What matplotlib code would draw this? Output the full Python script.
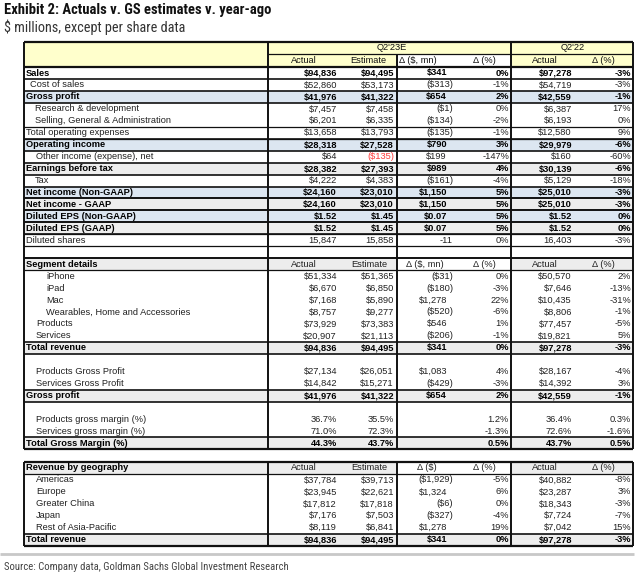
import matplotlib
matplotlib.use("Agg")
import matplotlib.pyplot as plt
from matplotlib.patches import Rectangle

# ---- data: income statement block ----
pl_labels = ["Sales", "Cost of sales", "Gross profit", "Research & development",
             "Selling, General & Administration", "Total operating expenses",
             "Operating income", "Other income (expense), net", "Earnings before tax",
             "Tax", "Net income (Non-GAAP)", "Net income - GAAP",
             "Diluted EPS (Non-GAAP)", "Diluted EPS (GAAP)", "Diluted shares"]
pl_actual = ["$94,836", "$52,860", "$41,976", "$7,457", "$6,201", "$13,658", "$28,318",
             "$64", "$28,382", "$4,222", "$24,160", "$24,160", "$1.52", "$1.52", "15,847"]
pl_estimate = ["$94,495", "$53,173", "$41,322", "$7,458", "$6,335", "$13,793", "$27,528",
               "($135)", "$27,393", "$4,383", "$23,010", "$23,010", "$1.45", "$1.45", "15,858"]
pl_delta = ["$341", "($313)", "$654", "($1)", "($134)", "($135)", "$790", "$199", "$989",
            "($161)", "$1,150", "$1,150", "$0.07", "$0.07", "-11"]
pl_delta_pct = ["0%", "-1%", "2%", "0%", "-2%", "-1%", "3%", "-147%", "4%", "-4%",
                "5%", "5%", "5%", "5%", "0%"]
pl_yago = ["$97,278", "$54,719", "$42,559", "$6,387", "$6,193", "$12,580", "$29,979",
           "$160", "$30,139", "$5,129", "$25,010", "$25,010", "$1.52", "$1.52", "16,403"]
pl_yago_pct = ["-3%", "-3%", "-1%", "17%", "0%", "9%", "-6%", "-60%", "-6%", "-18%",
               "-3%", "-3%", "0%", "0%", "-3%"]

# ---- segments ----
seg_labels = ["iPhone", "iPad", "Mac", "Wearables, Home and Accessories",
              "Products", "Services", "Total revenue"]
seg_actual = ["$51,334", "$6,670", "$7,168", "$8,757", "$73,929", "$20,907", "$94,836"]
seg_estimate = ["$51,365", "$6,850", "$5,890", "$9,277", "$73,383", "$21,113", "$94,495"]
seg_delta = ["($31)", "($180)", "$1,278", "($520)", "$546", "($206)", "$341"]
seg_delta_pct = ["0%", "-3%", "22%", "-6%", "1%", "-1%", "0%"]
seg_yago = ["$50,570", "$7,646", "$10,435", "$8,806", "$77,457", "$19,821", "$97,278"]
seg_yago_pct = ["2%", "-13%", "-31%", "-1%", "-5%", "5%", "-3%"]

gp_labels = ["Products Gross Profit", "Services Gross Profit", "Gross profit"]
gp_actual = ["$27,134", "$14,842", "$41,976"]
gp_estimate = ["$26,051", "$15,271", "$41,322"]
gp_delta = ["$1,083", "($429)", "$654"]
gp_delta_pct = ["4%", "-3%", "2%"]
gp_yago = ["$28,167", "$14,392", "$42,559"]
gp_yago_pct = ["-4%", "3%", "-1%"]

gm_labels = ["Products gross margin (%)", "Services gross margin (%)", "Total Gross Margin (%)"]
gm_actual = ["36.7%", "71.0%", "44.3%"]
gm_estimate = ["35.5%", "72.3%", "43.7%"]
gm_delta = ["", "", ""]
gm_delta_pct = ["1.2%", "-1.3%", "0.5%"]
gm_yago = ["36.4%", "72.6%", "43.7%"]
gm_yago_pct = ["0.3%", "-1.6%", "0.5%"]

# ---- geography ----
geo_labels = ["Americas", "Europe", "Greater China", "Japan", "Rest of Asia-Pacific",
              "Total revenue"]
geo_actual = ["$37,784", "$23,945", "$17,812", "$7,176", "$8,119", "$94,836"]
geo_estimate = ["$39,713", "$22,621", "$17,818", "$7,503", "$6,841", "$94,495"]
geo_delta = ["($1,929)", "$1,324", "($6)", "($327)", "$1,278", "$341"]
geo_delta_pct = ["-5%", "6%", "0%", "-4%", "19%", "0%"]
geo_yago = ["$40,882", "$23,287", "$18,343", "$7,724", "$7,042", "$97,278"]
geo_yago_pct = ["-8%", "3%", "-3%", "-7%", "15%", "-3%"]

# ---- layout / styles ----
# n = indented normal, p = plain top level, b = bold, B = bold blue, G = bold grey
pl_style = ["b", "n", "B", "n", "n", "p", "B", "n", "G", "n", "B", "G", "B", "G", "p"]
pl_indent = [26, 30, 26, 35, 35, 26, 26, 36, 26, 35, 26, 26, 26, 26, 26]
seg_style = ["n"] * 6 + ["G"]
seg_indent = [46, 46, 46, 46, 36, 36, 26]
gp_style = ["n", "n", "G"]
gp_indent = [36, 36, 26]
geo_style = ["n"] * 5 + ["G"]
geo_indent = [36] * 5 + [26]

FS = 6.7
TFONT = ["Liberation Sans", "DejaVu Sans"]
NARROW = ["Roboto Condensed", "Roboto", "DejaVu Sans"]
YELLOW = "#FFFFCC"
BLUE = "#DCE6F1"
GREY = "#EDEDED"
FILL = {"B": BLUE, "G": GREY}

XL, XC1, XC2, XC3, XR = 24, 268, 397, 511, 633
PITCH = 11.95
HALF = PITCH / 2

fig = plt.figure(figsize=(6.4, 5.76), dpi=100)
ax = fig.add_axes([0, 0, 1, 1])
ax.set_xlim(0, 640)
ax.set_ylim(576, 0)
ax.axis("off")


def txt(x, y, s, ha="right", bold=False, color="#111111", size=FS):
    ax.text(x, y, s, ha=ha, va="center", fontsize=size, family=TFONT,
            fontweight="bold" if bold else "normal", color=color)


def hline(y, x0=XL, x1=XR, lw=1.2):
    ax.hlines(y, x0, x1, colors="#111111", lw=lw)


def data_row(y, label, vals, style, indent, red=None):
    bold = style in "bBG"
    if style in FILL:
        ax.add_patch(Rectangle((XL, y - HALF), XR - XL, PITCH, color=FILL[style], lw=0))
    col = "#000000" if bold else "#222222"
    txt(indent, y, label, ha="left", bold=bold, color=col)
    a, e, d, dp, ya, yp = vals
    txt(337, y, a, bold=bold, color=col)
    txt(394, y, e, bold=bold, color="#FF3B3B" if red else col)
    if d:
        txt(447 if d.startswith("$") else 453, y, d, bold=bold, color=col)
    txt(509, y, dp, bold=bold, color=col)
    txt(572, y, ya, bold=bold, color=col)
    txt(631, y, yp, bold=bold, color=col)
    if bold:
        hline(y - HALF)
        hline(y + HALF)
    elif style == "p":
        hline(y - HALF, lw=0.9)
        hline(y + HALF, lw=0.9)


def sub_header(y, label, dlabel, dx):
    ax.add_patch(Rectangle((XL, y - HALF), XC2 - XL, PITCH, color=GREY, lw=0))
    ax.add_patch(Rectangle((XC3, y - HALF), XR - XC3, PITCH, color=GREY, lw=0))
    txt(26, y, label, ha="left", bold=True, color="#000000")
    for x, s in [(304, "Actual"), (369, "Estimate"), (dx, dlabel), (484, "\u0394 (%)"),
                 (545, "Actual"), (603, "\u0394 (%)")]:
        txt(x, y, s, ha="center", color="#222222")
    hline(y - HALF, lw=1.4)
    hline(y + HALF, lw=0.9)


# ---- titles ----
ax.text(4, 10, "Exhibit 2: Actuals v. GS estimates v. year-ago", ha="left", va="center",
        fontsize=10.5, family=NARROW, fontweight="bold", color="#111111")
ax.text(4, 27, "$ millions, except per share data", ha="left", va="center",
        fontsize=10.3, family=NARROW, color="#333333")

# ---- block A header ----
top = 42
ax.add_patch(Rectangle((XL, top), XR - XL, 12, color=YELLOW, lw=0))
ax.add_patch(Rectangle((XL, top + 12), XC2 - XL, 13, color=YELLOW, lw=0))
ax.add_patch(Rectangle((XC3, top + 12), XR - XC3, 13, color=YELLOW, lw=0))
txt((XC1 + XC3) / 2 + 2, top + 6, "Q2'23E", ha="center")
txt((XC3 + XR) / 2 + 1, top + 6, "Q2'22", ha="center")
for x, s in [(304, "Actual"), (368, "Estimate"), (418, "\u0394 ($, mn)"), (484, "\u0394 (%)"),
             (545, "Actual"), (603, "\u0394 (%)")]:
    txt(x, top + 18.5, s, ha="center")
hline(top + 12, XC1, XR, lw=0.9)
hline(top, lw=1.6)
hline(top + 25, lw=1.6)

# ---- block A rows ----
y0 = 73
for i, lab in enumerate(pl_labels):
    vals = (pl_actual[i], pl_estimate[i], pl_delta[i], pl_delta_pct[i], pl_yago[i], pl_yago_pct[i])
    data_row(y0 + i * PITCH, lab, vals, pl_style[i], pl_indent[i], red=pl_estimate[i].startswith("("))
endA = y0 + (len(pl_labels) + 1) * PITCH - HALF

# ---- block B ----
yh = endA + HALF
sub_header(yh, "Segment details", "\u0394 ($, mn)", 425)
r = 1
for i, lab in enumerate(seg_labels):
    vals = (seg_actual[i], seg_estimate[i], seg_delta[i], seg_delta_pct[i], seg_yago[i], seg_yago_pct[i])
    data_row(yh + r * PITCH, lab, vals, seg_style[i], seg_indent[i])
    r += 1
r += 1
for i, lab in enumerate(gp_labels):
    vals = (gp_actual[i], gp_estimate[i], gp_delta[i], gp_delta_pct[i], gp_yago[i], gp_yago_pct[i])
    data_row(yh + r * PITCH, lab, vals, gp_style[i], gp_indent[i])
    r += 1
r += 1
for i, lab in enumerate(gm_labels):
    vals = (gm_actual[i], gm_estimate[i], gm_delta[i], gm_delta_pct[i], gm_yago[i], gm_yago_pct[i])
    data_row(yh + r * PITCH, lab, vals, gp_style[i], gp_indent[i])
    r += 1
endB = yh + (r - 1) * PITCH + HALF
hline(endB, lw=1.6)

# vertical rules for blocks A and B
for x in [XL, XC1, XC3, XR]:
    ax.vlines(x, top, endB, colors="#111111", lw=1.4)
ax.vlines(XC2, top + 12, endB, colors="#111111", lw=1.4)

# ---- block C ----
topC = 462
ycH = topC + HALF
sub_header(ycH, "Revenue by geography", "\u0394 ($)", 427)
hline(topC, lw=1.6)
for i, lab in enumerate(geo_labels):
    vals = (geo_actual[i], geo_estimate[i], geo_delta[i], geo_delta_pct[i], geo_yago[i], geo_yago_pct[i])
    data_row(ycH + (i + 1) * PITCH, lab, vals, geo_style[i], geo_indent[i])
endC = ycH + len(geo_labels) * PITCH + HALF
hline(endC, lw=1.6)
for x in [XL, XC1, XC2, XC3, XR]:
    ax.vlines(x, topC, endC, colors="#111111", lw=1.4)

# ---- footer ----
ax.hlines(554, 0, 634, colors="#c8c8c8", lw=2)
ax.text(4, 567, "Source: Company data, Goldman Sachs Global Investment Research", ha="left",
        va="center", fontsize=7.7, family=NARROW, color="#444444")

fig.savefig("out.png", dpi=100)
